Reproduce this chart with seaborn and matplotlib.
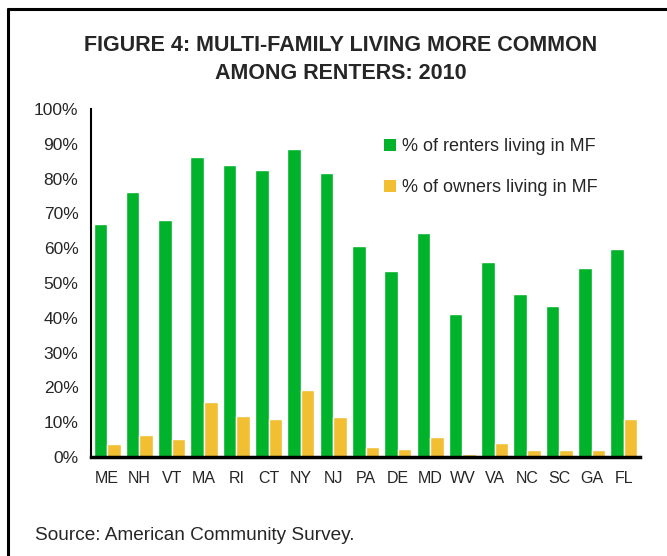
import pandas as pd
import matplotlib.pyplot as plt
import seaborn as sns
from matplotlib.lines import Line2D
from matplotlib.patches import Patch

# ---------------------------------------------------------------------
# data (percent)
# ---------------------------------------------------------------------
states = ["ME", "NH", "VT", "MA", "RI", "CT", "NY", "NJ", "PA",
          "DE", "MD", "WV", "VA", "NC", "SC", "GA", "FL"]
renters_mf = [67.0, 76.1, 68.1, 86.2, 83.9, 82.5, 88.5, 81.6, 60.6,
              53.4, 64.4, 41.1, 56.0, 46.8, 43.4, 54.3, 59.8]
owners_mf = [3.7, 6.3, 5.2, 15.8, 11.8, 10.9, 19.3, 11.5, 2.9,
             2.3, 5.7, 0.9, 4.0, 2.0, 2.0, 2.0, 10.9]
series_names = ["% of renters living in MF", "% of owners living in MF"]
colors = ["#00B32A", "#F2BF33"]

df = pd.DataFrame({
    "state": states * 2,
    "pct": renters_mf + owners_mf,
    "series": [series_names[0]] * len(states) + [series_names[1]] * len(states),
})

sns.set_style("white")
plt.rcParams["font.family"] = ["Liberation Sans", "DejaVu Sans"]

W, H = 667, 556
fig = plt.figure(figsize=(W / 100, H / 100), dpi=100)
ax = fig.add_axes([91 / W, 1 - 457 / H, 549 / W, 348 / H])

sns.barplot(data=df, x="state", y="pct", hue="series", palette=colors,
            width=0.84, gap=0, saturation=1, ax=ax, legend=False)

ax.set_xlim(-0.5, len(states) - 0.5)
ax.set_ylim(0, 100)
ax.set_yticks(range(0, 101, 10))
ax.set_yticklabels([f"{v}%" for v in range(0, 101, 10)], fontsize=12.5)
ax.tick_params(axis="y", direction="out", length=6, width=1.5, color="black", pad=3)
ax.tick_params(axis="x", length=0, pad=10, labelsize=11.5)
ax.set_xlabel("")
ax.set_ylabel("")
for side in ["top", "right"]:
    ax.spines[side].set_visible(False)
ax.spines["left"].set_linewidth(1.5)
ax.spines["bottom"].set_linewidth(2.5)
ax.spines["left"].set_color("black")
ax.spines["bottom"].set_color("black")

handles = [Patch(facecolor=c, edgecolor="none") for c in colors]
fig.legend(handles, series_names, loc="upper left",
           bbox_to_anchor=(384 / W, 1 - 138 / H), frameon=False, fontsize=13,
           handlelength=0.67, handleheight=0.67, handletextpad=0.3,
           labelspacing=1.35, borderpad=0, borderaxespad=0)

fig.text(341 / W, 1 - 51 / H, "FIGURE 4: MULTI-FAMILY LIVING MORE COMMON",
         ha="center", va="baseline", fontsize=15.5, fontweight="bold")
fig.text(341 / W, 1 - 79 / H, "AMONG RENTERS: 2010",
         ha="center", va="baseline", fontsize=15.5, fontweight="bold")
fig.text(35 / W, 1 - 540 / H, "Source: American Community Survey.",
         ha="left", va="baseline", fontsize=13.7)

# frame around the figure (only top and left edges show)
fig.add_artist(Line2D([7.5 / W, 7.5 / W], [0, 1 - 9 / H],
                      color="black", lw=2.2, transform=fig.transFigure))
fig.add_artist(Line2D([7.5 / W, 1], [1 - 9 / H, 1 - 9 / H],
                      color="black", lw=2.2, transform=fig.transFigure))

fig.savefig("out.png", dpi=100)
